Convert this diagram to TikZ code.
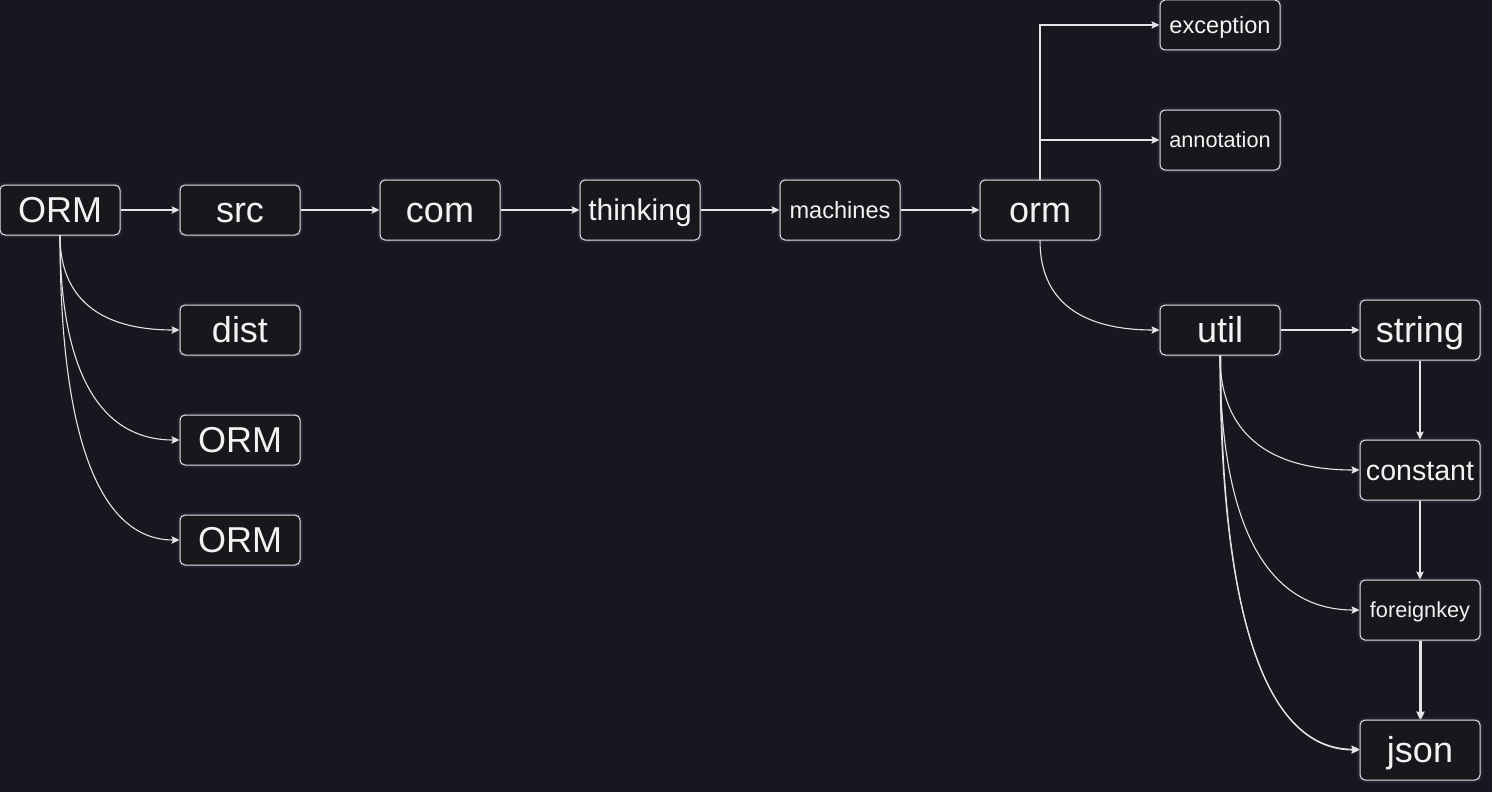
\documentclass[tikz,border=0pt]{standalone}
\usepackage{fontspec}
\setmainfont{Liberation Sans}
\usetikzlibrary{arrows.meta,calc}
\definecolor{bgc}{HTML}{18171F}
\definecolor{nodec}{HTML}{18171C}
\definecolor{linec}{HTML}{E4E4E8}
\definecolor{txtc}{HTML}{F2F2F2}
\definecolor{glowa}{HTML}{1F1E2B}
\definecolor{glowb}{HTML}{2A2939}
\tikzset{
  box/.style={draw=linec, fill=nodec, rounded corners=5pt, line width=1pt,
    minimum width=120pt, inner sep=0pt, text=txtc, text depth=0pt,
    preaction={draw=glowa, line width=6pt},
    preaction={draw=glowb, line width=3pt}},
  hs/.style={minimum height=50pt},
  ht/.style={minimum height=60pt},
  fa/.style={font=\fontsize{36}{36}\selectfont, text height=25.8pt},
  fb/.style={font=\fontsize{30}{30}\selectfont, text height=21.5pt},
  fc/.style={font=\fontsize{28.6}{28.6}\selectfont, text height=20.5pt},
  fd/.style={font=\fontsize{23.6}{23.6}\selectfont, text height=16.9pt},
  fe/.style={font=\fontsize{21.7}{21.7}\selectfont, text height=15.5pt},
  conn/.style={draw=linec, line width=1.1pt,
    -{Stealth[length=8pt,width=7.5pt,inset=1.5pt]}},
}
\begin{document}
\begin{tikzpicture}[x=1pt,y=-1pt]
\fill[bgc] (0,0) rectangle (1492,792);
\useasboundingbox (0,0) rectangle (1492,792);

\node[box,hs,fa] (orma) at (60,210) {ORM};
\node[box,hs,fa] (src) at (240,210) {src};
\node[box,ht,fa] (com) at (440,210) {com};
\node[box,ht,fb] (thinking) at (640,210) {thinking};
\node[box,ht,fd] (machines) at (840,210) {machines};
\node[box,ht,fa] (orm) at (1040,210) {orm};
\node[box,hs,fd] (exception) at (1220,25) {exception};
\node[box,ht,fe] (annotation) at (1220,140) {annotation};
\node[box,hs,fa] (util) at (1220,330) {util};
\node[box,ht,fa] (string) at (1420,330) {string};
\node[box,ht,fc] (constant) at (1420,470) {constant};
\node[box,ht,fe] (foreignkey) at (1420,610) {foreignkey};
\node[box,ht,fa] (json) at (1420,750) {json};
\node[box,hs,fa] (dist) at (240,330) {dist};
\node[box,hs,fa] (ormb) at (240,440) {ORM};
\node[box,hs,fa] (ormc) at (240,540) {ORM};

% straight chain
\draw[conn] (orma.east) -- (src.west);
\draw[conn] (src.east) -- (com.west);
\draw[conn] (com.east) -- (thinking.west);
\draw[conn] (thinking.east) -- (machines.west);
\draw[conn] (machines.east) -- (orm.west);
\draw[conn] (util.east) -- (string.west);
\draw[conn] (string.south) -- (constant.north);
\draw[conn] (constant.south) -- (foreignkey.north);
\draw[conn] (foreignkey.south) -- (json.north);
\draw[conn] ([xshift=1pt]foreignkey.south) -- ([xshift=1pt]json.north);

% orthogonal from orm up
\draw[conn] (orm.north) |- (exception.west);
\draw[conn] (orm.north) |- (annotation.west);

% curved branches
\newcommand{\qcurve}[2]{%
  \draw[conn] (#1.south) .. controls ($(#1.south)!0.6667!(#1.south |- #2.west)$)
    and ($(#2.west)!0.6667!(#1.south |- #2.west)$) .. (#2.west);}
\qcurve{orma}{dist}
\qcurve{orma}{ormb}
\qcurve{orma}{ormc}
\qcurve{orm}{util}
\qcurve{util}{constant}
\qcurve{util}{foreignkey}
\qcurve{util}{json}
\draw[conn] ([xshift=0.8pt]util.south) .. controls ($([xshift=0.8pt]util.south)!0.6667!(util.south |- json.west)$)
    and ($([yshift=0.8pt]json.west)!0.6667!(util.south |- json.west)$) .. ([yshift=0.8pt]json.west);
\end{tikzpicture}
\end{document}
